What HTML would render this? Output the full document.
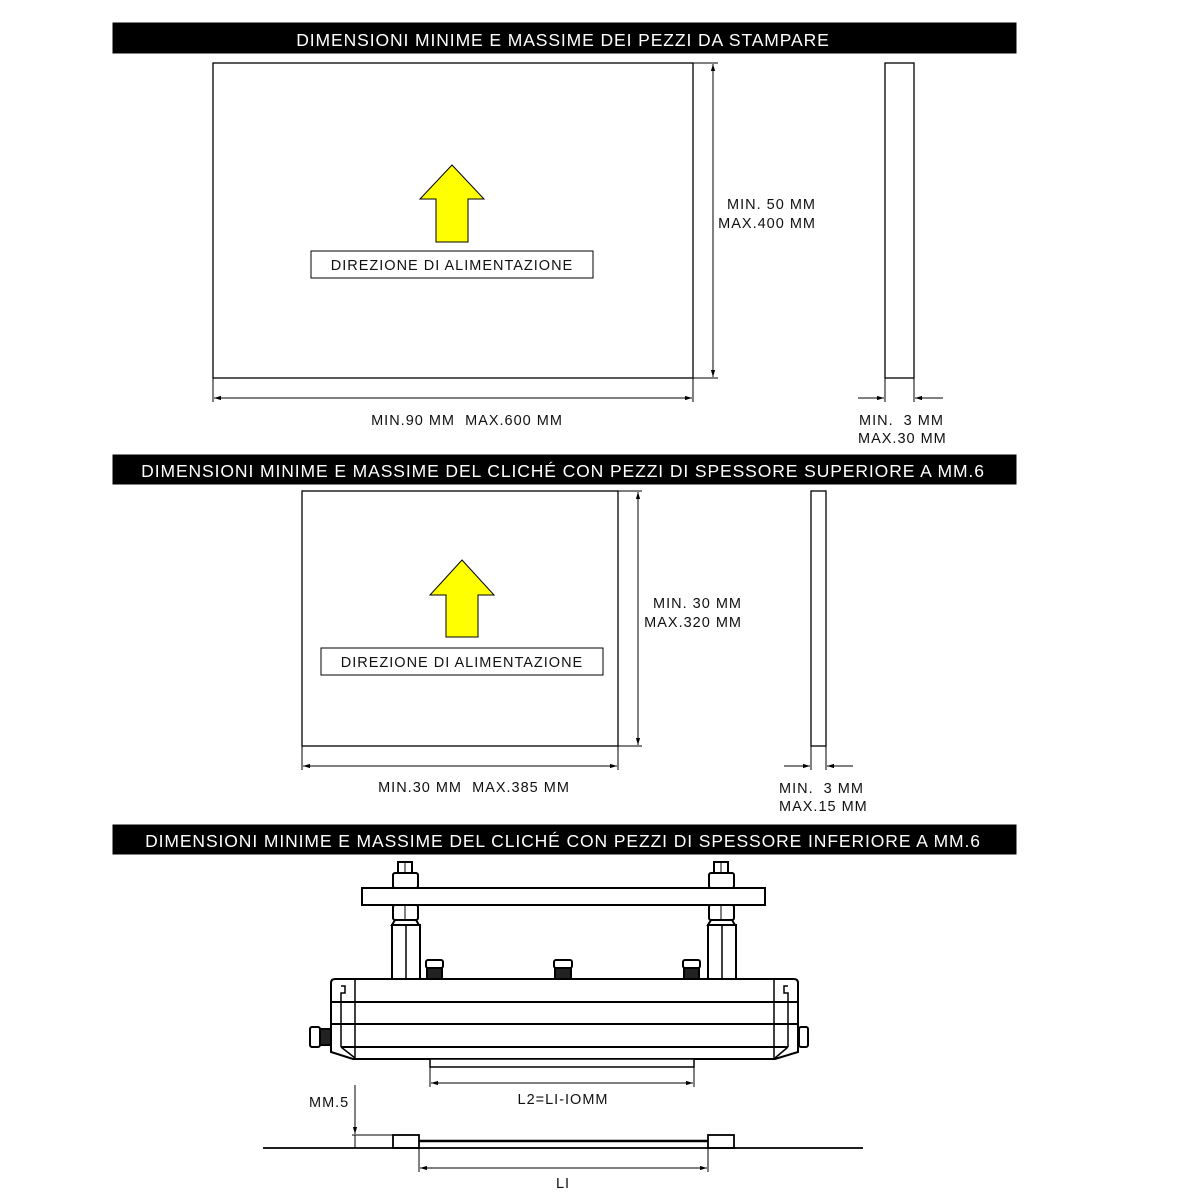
<!DOCTYPE html>
<html><head><meta charset="utf-8"><style>
html,body{margin:0;padding:0;background:#fff;}
svg{display:block;}
text{font-family:"Liberation Sans",sans-serif;fill:#111;}
.h{fill:#fff;font-size:17.5px;letter-spacing:0.9px;}
.t{font-size:14.5px;letter-spacing:1px;}
</style></head><body>
<svg width="1200" height="1200" viewBox="0 0 1200 1200" xmlns="http://www.w3.org/2000/svg">
<defs>
<marker id="a" viewBox="0 0 10 10" refX="10" refY="5" markerWidth="7" markerHeight="7" orient="auto-start-reverse"><path d="M0,2 L10,5 L0,8z" fill="#000"/></marker>
</defs>
<g stroke="#000" fill="none" stroke-width="1">
<rect x="113" y="23" width="903" height="30" fill="#000"/>
<rect x="113" y="455" width="903" height="29" fill="#000"/>
<rect x="113" y="825" width="903" height="29" fill="#000"/>
</g>
<text class="h" x="563" y="46" text-anchor="middle">DIMENSIONI MINIME E MASSIME DEI PEZZI DA STAMPARE</text>
<text class="h" x="563" y="477" text-anchor="middle">DIMENSIONI MINIME E MASSIME DEL CLICHÉ CON PEZZI DI SPESSORE SUPERIORE A MM.6</text>
<text class="h" x="563" y="847" text-anchor="middle">DIMENSIONI MINIME E MASSIME DEL CLICHÉ CON PEZZI DI SPESSORE INFERIORE A MM.6</text>

<g stroke="#000" fill="none" stroke-width="1.3">
<rect x="213" y="63" width="480" height="315"/>
<line x1="693" y1="63" x2="718" y2="63" stroke-width="1"/>
<line x1="693" y1="378" x2="718" y2="378" stroke-width="1"/>
<line x1="713" y1="64" x2="713" y2="377" stroke-width="1" marker-start="url(#a)" marker-end="url(#a)"/>
<line x1="213" y1="378" x2="213" y2="402" stroke-width="1"/>
<line x1="693" y1="378" x2="693" y2="402" stroke-width="1"/>
<line x1="214" y1="398" x2="692" y2="398" stroke-width="1" marker-start="url(#a)" marker-end="url(#a)"/>
<rect x="885" y="63" width="29" height="315"/>
<line x1="885" y1="378" x2="885" y2="402" stroke-width="1"/>
<line x1="914" y1="378" x2="914" y2="402" stroke-width="1"/>
<line x1="858" y1="398" x2="884" y2="398" stroke-width="1" marker-end="url(#a)"/>
<line x1="943" y1="398" x2="915" y2="398" stroke-width="1" marker-end="url(#a)"/>
<path d="M452,165 L484,199 L468,199 L468,242 L436,242 L436,199 L420,199Z" fill="#ffff00" stroke-width="1"/>
<rect x="311" y="251" width="282" height="27" stroke-width="1"/>

<rect x="302" y="491" width="316" height="255"/>
<line x1="618" y1="491" x2="642" y2="491" stroke-width="1"/>
<line x1="618" y1="746" x2="642" y2="746" stroke-width="1"/>
<line x1="638" y1="492" x2="638" y2="745" stroke-width="1" marker-start="url(#a)" marker-end="url(#a)"/>
<line x1="302" y1="746" x2="302" y2="770" stroke-width="1"/>
<line x1="618" y1="746" x2="618" y2="770" stroke-width="1"/>
<line x1="303" y1="766" x2="617" y2="766" stroke-width="1" marker-start="url(#a)" marker-end="url(#a)"/>
<rect x="811" y="491" width="15" height="255"/>
<line x1="811" y1="746" x2="811" y2="770" stroke-width="1"/>
<line x1="826" y1="746" x2="826" y2="770" stroke-width="1"/>
<line x1="784" y1="766" x2="810" y2="766" stroke-width="1" marker-end="url(#a)"/>
<line x1="853" y1="766" x2="827" y2="766" stroke-width="1" marker-end="url(#a)"/>
<path d="M462,560 L494,595 L478,595 L478,637 L446,637 L446,595 L430,595Z" fill="#ffff00" stroke-width="1"/>
<rect x="321" y="648" width="282" height="27" stroke-width="1"/>
</g>

<text class="t" x="816" y="209" text-anchor="end">MIN. 50 MM</text>
<text class="t" x="816" y="228" text-anchor="end">MAX.400 MM</text>
<text class="t" x="467" y="425" text-anchor="middle">MIN.90 MM&#160;&#160;MAX.600 MM</text>
<text class="t" x="859" y="425">MIN.&#160;&#160;3 MM</text>
<text class="t" x="858" y="443">MAX.30 MM</text>
<text class="t" x="452" y="270" text-anchor="middle">DIREZIONE DI ALIMENTAZIONE</text>

<text class="t" x="742" y="608" text-anchor="end">MIN. 30 MM</text>
<text class="t" x="742" y="627" text-anchor="end">MAX.320 MM</text>
<text class="t" x="474" y="792" text-anchor="middle">MIN.30 MM&#160;&#160;MAX.385 MM</text>
<text class="t" x="779" y="793">MIN.&#160;&#160;3 MM</text>
<text class="t" x="779" y="811">MAX.15 MM</text>
<text class="t" x="462" y="667" text-anchor="middle">DIREZIONE DI ALIMENTAZIONE</text>

<g stroke="#000" fill="#fff" stroke-width="2">
<rect x="362" y="888" width="403" height="17"/>
<g>
<rect x="398" y="862" width="14" height="11"/>
<rect x="393" y="873" width="25" height="15" rx="2"/>
<rect x="393" y="905" width="25" height="15" rx="2"/>
<path d="M395,920 L416,920 L419,925 L392,925Z"/>
<rect x="392" y="925" width="28" height="55"/>
<line x1="406" y1="925" x2="406" y2="980" stroke-width="1.5"/>
<line x1="405" y1="862" x2="405" y2="873" stroke-width="1"/>
<line x1="405" y1="905" x2="405" y2="920" stroke-width="1"/>
</g>
<g transform="translate(316,0)">
<rect x="398" y="862" width="14" height="11"/>
<rect x="393" y="873" width="25" height="15" rx="2"/>
<rect x="393" y="905" width="25" height="15" rx="2"/>
<path d="M395,920 L416,920 L419,925 L392,925Z"/>
<rect x="392" y="925" width="28" height="55"/>
<line x1="406" y1="925" x2="406" y2="980" stroke-width="1.5"/>
<line x1="405" y1="862" x2="405" y2="873" stroke-width="1"/>
<line x1="405" y1="905" x2="405" y2="920" stroke-width="1"/>
</g>
<rect x="426" y="960" width="17" height="8" rx="2"/><rect x="427" y="968" width="15" height="12" fill="#222"/>
<rect x="554" y="960" width="18" height="8" rx="2"/><rect x="555" y="968" width="16" height="12" fill="#222"/>
<rect x="683" y="960" width="17" height="8" rx="2"/><rect x="684" y="968" width="15" height="12" fill="#222"/>
<rect x="310" y="1027" width="10" height="20" rx="2"/><rect x="320" y="1029" width="11" height="16" fill="#222"/>
<rect x="799" y="1027" width="9" height="20" rx="2"/>
<path d="M335,979 L794,979 Q798,979 798,983 L798,1052 L775,1059 L353,1059 L331,1052 L331,983 Q331,979 335,979Z"/>
<line x1="331" y1="1002" x2="798" y2="1002"/>
<line x1="331" y1="1024" x2="798" y2="1024"/>
<line x1="341" y1="1047" x2="788" y2="1047"/>
<path d="M341,1047 L341,993 L345,993 L345,986 L341,986 M341,1047 L355,1058" fill="none" stroke-width="1.5"/>
<path d="M788,1047 L788,993 L784,993 L784,986 L788,986 M788,1047 L775,1058" fill="none" stroke-width="1.5"/>
<line x1="355" y1="980" x2="355" y2="1058" stroke-width="1.5"/>
<line x1="774" y1="980" x2="774" y2="1058" stroke-width="1.5"/>
<rect x="430" y="1059" width="264" height="8" stroke-width="1.5"/>
</g>
<g stroke="#000" fill="none" stroke-width="1">
<line x1="430" y1="1067" x2="430" y2="1087"/>
<line x1="694" y1="1067" x2="694" y2="1087"/>
<line x1="431" y1="1083" x2="693" y2="1083" marker-start="url(#a)" marker-end="url(#a)"/>
<line x1="263" y1="1148" x2="863" y2="1148" stroke-width="1.8"/>
<rect x="393" y="1135" width="26" height="13" stroke-width="1.8"/>
<rect x="708" y="1135" width="26" height="13" stroke-width="1.8"/>
<line x1="419" y1="1141" x2="708" y2="1141" stroke-width="2.5"/>
<line x1="355" y1="1085" x2="355" y2="1134" marker-end="url(#a)"/>
<line x1="352" y1="1135" x2="393" y2="1135"/>
<line x1="355" y1="1135" x2="355" y2="1148"/>
<line x1="419" y1="1148" x2="419" y2="1172"/>
<line x1="708" y1="1148" x2="708" y2="1172"/>
<line x1="420" y1="1168" x2="707" y2="1168" marker-start="url(#a)" marker-end="url(#a)"/>
</g>
<text class="t" x="563" y="1104" text-anchor="middle">L2=LI-IOMM</text>
<text class="t" x="309" y="1107">MM.5</text>
<text class="t" x="563" y="1188" text-anchor="middle">LI</text>
</svg>
</body></html>
